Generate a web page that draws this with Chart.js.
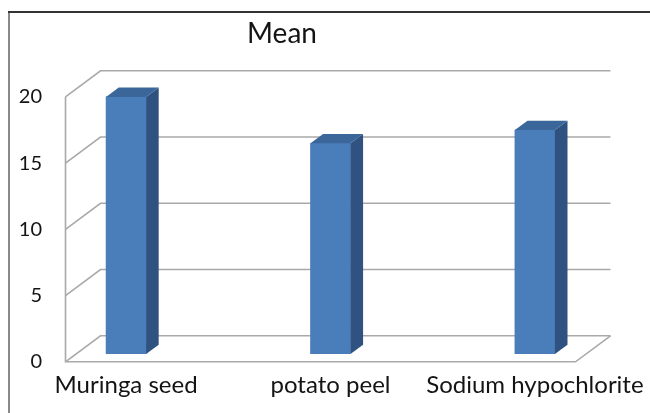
<!DOCTYPE html>
<html>
<head>
<meta charset="utf-8">
<script src="https://cdn.jsdelivr.net/npm/chart.js@4"></script>
<style>
  html, body { margin: 0; padding: 0; background: #fff; }
  canvas { display: block; }
</style>
</head>
<body>
<canvas id="meanChart" width="650" height="413"></canvas>
<script>
// Chart data
const categories = ['Muringa seed', 'potato peel', 'Sodium hypochlorite'];
const meanValues = [19.4, 15.9, 16.9];
const yTicks = [0, 5, 10, 15, 20];
const chartTitle = 'Mean';

// 3D look (Excel style): depth vector of the walls, bar plane sits at DEPTH_F of the depth
const DX = 35, DY = -26;
const DEPTH_F = 0.3;
const BAR_DEPTH = 0.36;

const textColor = '#141414';
const gridColor = '#a9a9a9';
const fontFamily = 'Lato, "Open Sans", sans-serif';

const frameAndTitle = {
    id: 'frameAndTitle',
    beforeDraw(chart) {
        const ctx = chart.ctx;
        ctx.save();
        // outer frame (only top and left are visible in the crop)
        ctx.strokeStyle = '#8a8a8a';
        ctx.lineWidth = 2;
        ctx.beginPath();
        ctx.moveTo(9, 413);
        ctx.lineTo(9, 12);
        ctx.stroke();
        ctx.strokeStyle = '#333';
        ctx.beginPath();
        ctx.moveTo(8, 12);
        ctx.lineTo(650, 12);
        ctx.stroke();
        // title
        ctx.fillStyle = textColor;
        ctx.font = '28px ' + fontFamily;
        ctx.textAlign = 'center';
        ctx.textBaseline = 'alphabetic';
        ctx.fillText(chartTitle, 282, 43);
        ctx.restore();
    }
};

const box3d = {
    id: 'box3d',
    beforeDatasetsDraw(chart) {
        const ctx = chart.ctx;
        const area = chart.chartArea;
        const ys = chart.scales.y;
        const fx = -DEPTH_F * DX, fy = -DEPTH_F * DY;
        const bx = (1 - DEPTH_F) * DX, by = (1 - DEPTH_F) * DY;
        const y0 = ys.getPixelForValue(yTicks[0]);
        const yTop = ys.getPixelForValue(yTicks[yTicks.length - 1]);

        ctx.save();
        ctx.strokeStyle = gridColor;
        ctx.lineWidth = 1.6;
        // gridlines: left wall diagonal + back wall horizontal
        yTicks.forEach(v => {
            const y = ys.getPixelForValue(v);
            ctx.beginPath();
            ctx.moveTo(area.left + fx, y + fy);
            ctx.lineTo(area.left + bx, y + by);
            ctx.lineTo(area.right + bx, y + by);
            ctx.stroke();
        });
        // left wall front edge
        ctx.beginPath();
        ctx.moveTo(area.left + fx, yTop + fy);
        ctx.lineTo(area.left + fx, y0 + fy);
        // floor front and right edges
        ctx.lineTo(area.right + fx, y0 + fy);
        ctx.lineTo(area.right + bx, y0 + by);
        ctx.stroke();
        ctx.restore();
    },
    afterDatasetsDraw(chart) {
        const ctx = chart.ctx;
        const ddx = BAR_DEPTH * DX, ddy = BAR_DEPTH * DY;
        const meta = chart.getDatasetMeta(0);
        ctx.save();
        meta.data.forEach(el => {
            const { x, y, base, width } = el.getProps(['x', 'y', 'base', 'width'], true);
            const l = x - width / 2, r = x + width / 2;
            // side face
            ctx.fillStyle = '#2f5280';
            ctx.beginPath();
            ctx.moveTo(r, y);
            ctx.lineTo(r + ddx, y + ddy);
            ctx.lineTo(r + ddx, base + ddy);
            ctx.lineTo(r, base);
            ctx.closePath();
            ctx.fill();
            // top face
            ctx.fillStyle = '#3b6699';
            ctx.beginPath();
            ctx.moveTo(l, y);
            ctx.lineTo(r, y);
            ctx.lineTo(r + ddx, y + ddy);
            ctx.lineTo(l + ddx, y + ddy);
            ctx.closePath();
            ctx.fill();
        });
        ctx.restore();
    }
};

const ctx = document.getElementById('meanChart').getContext('2d');
new Chart(ctx, {
    type: 'bar',
    data: {
        datasets: [{
            label: chartTitle,
            data: categories.map((c, i) => ({ x: i, y: meanValues[i] })),
            backgroundColor: '#4a7ebb',
            borderWidth: 0,
            barThickness: 40
        }]
    },
    options: {
        responsive: false,
        animation: false,
        devicePixelRatio: 1,
        layout: { padding: { left: 16, right: 64, top: 89, bottom: 9 } },
        plugins: {
            legend: { display: false },
            tooltip: { enabled: false },
            title: { display: false }
        },
        scales: {
            x: {
                type: 'linear',
                offset: false,
                min: -0.245,
                max: 2.25,
                grid: { display: false, drawTicks: false, offset: false },
                border: { display: false },
                afterBuildTicks: s => { s.ticks = categories.map((c, i) => ({ value: i })); },
                afterFit: s => {
                    s.height = 50;
                    // labels may hang past the plot edges, keep the plot area fixed
                    s.paddingLeft = 0;
                    s.paddingRight = 0;
                },
                ticks: {
                    callback: v => categories[v],
                    color: textColor,
                    font: { family: fontFamily, size: 24 },
                    padding: 17,
                    maxRotation: 0,
                    autoSkip: false
                }
            },
            y: {
                min: 0,
                max: 20,
                grid: { display: false, drawTicks: false },
                border: { display: false },
                afterBuildTicks: s => { s.ticks = yTicks.map(v => ({ value: v })); },
                afterFit: s => { s.width = 60; },
                ticks: {
                    color: textColor,
                    font: { family: fontFamily, size: 20 },
                    padding: 34,
                    labelOffset: 8
                }
            }
        }
    },
    plugins: [frameAndTitle, box3d]
});
</script>
</body>
</html>
